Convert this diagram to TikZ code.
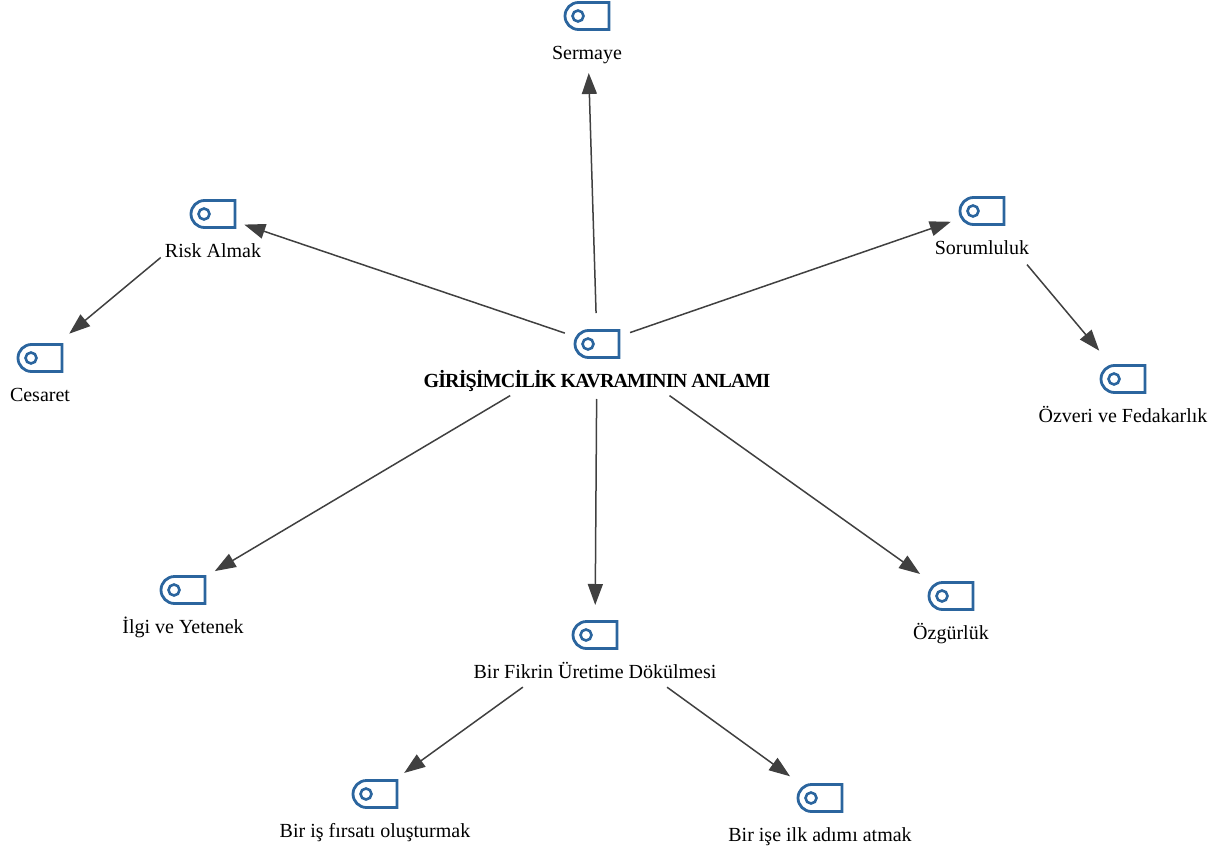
\documentclass[tikz,border=0pt]{standalone}
\usepackage{fontspec}
\setmainfont{Liberation Serif}
\usetikzlibrary{arrows.meta,positioning}
\definecolor{iconBlue}{HTML}{2B659E}
\definecolor{edgeGray}{HTML}{404040}
\tikzset{
   topic/.style={minimum width=50pt, minimum height=32pt, inner sep=0pt,
      path picture={
         \draw[iconBlue,line width=2.8pt]
            ([shift={(47,2.5)}]path picture bounding box.north west) -- ([shift={(47,29.5)}]path picture bounding box.north west)
            -- ([shift={(16.5,29.5)}]path picture bounding box.north west)
            arc[start angle=270,end angle=90,radius=13.5pt]
            -- cycle;
         \draw[iconBlue,line width=2.6pt] ([shift={(16,16)}]path picture bounding box.north west) circle (5.5pt);
      }},
   caption/.style={inner sep=0pt, text height=14pt, text depth=4pt, font=\fontsize{20}{24}\selectfont},
   conn/.style={-{Triangle[length=21pt,width=15pt]},line width=1.5pt,color=edgeGray}
}

\begin{document}
\begin{tikzpicture}[x=1pt,y=-1pt]
   \useasboundingbox (0,0) rectangle (1217,853);

   \node[topic] (main) at (597,344) {};
   \node[caption,below=13.5pt of main,font=\fontsize{20}{24}\selectfont\bfseries] (mainText) {\addfontfeature{LetterSpace=-4.2}GİRİŞİMCİLİK KAVRAMININ ANLAMI};

   \node[topic] (sermaye) at (587,16) {};
   \node[caption,below=13.5pt of sermaye] (sermayeText) {Sermaye};
   \node[topic] (risk) at (213,214) {};
   \node[caption,below=13.5pt of risk] (riskText) {Risk Almak};
   \node[topic] (cesaret) at (40,358) {};
   \node[caption,below=13.5pt of cesaret] (cesaretText) {Cesaret};
   \node[topic] (sorumluluk) at (982,211) {};
   \node[caption,below=13.5pt of sorumluluk] (sorumlulukText) {Sorumluluk};
   \node[topic] (ozveri) at (1123,379) {};
   \node[caption,below=13.5pt of ozveri] (ozveriText) {Özveri ve Fedakarlık};
   \node[topic] (ilgi) at (183,590) {};
   \node[caption,below=13.5pt of ilgi] (ilgiText) {İlgi ve Yetenek};
   \node[topic] (ozgurluk) at (951,596) {};
   \node[caption,below=13.5pt of ozgurluk] (ozgurlukText) {Özgürlük};
   \node[topic] (fikir) at (595,635) {};
   \node[caption,below=13.5pt of fikir] (fikirText) {Bir Fikrin Üretime Dökülmesi};
   \node[topic] (firsat) at (375,794) {};
   \node[caption,below=13.5pt of firsat] (firsatText) {Bir iş fırsatı oluşturmak};
   \node[topic] (adim) at (820,798) {};
   \node[caption,below=13.5pt of adim] (adimText) {Bir işe ilk adımı atmak};

   \draw[conn,shorten <=31pt,shorten >=57pt] (main.center) -- (sermaye.center);
   \draw[conn,shorten <=34pt,shorten >=33pt] (main.center) -- (risk.center);
   \draw[conn,shorten <=35pt,shorten >=33pt] (main.center) -- (sorumluluk.center);
   \draw[conn,shorten <=101pt,shorten >=37pt] (main.center) -- (ilgi.center);
   \draw[conn,shorten <=89pt,shorten >=38pt] (main.center) -- (ozgurluk.center);
   \draw[conn,shorten <=55pt,shorten >=30pt] (main.center) -- (fikir.center);
   \draw[conn,shorten <=68pt,shorten >=38pt] (risk.center) -- (cesaret.center);
   \draw[conn,shorten <=70pt,shorten >=37pt] (sorumluluk.center) -- (ozveri.center);
   \draw[conn,shorten <=89pt,shorten >=36pt] (fikir.center) -- (firsat.center);
   \draw[conn,shorten <=89pt,shorten >=37pt] (fikir.center) -- (adim.center);
\end{tikzpicture}
\end{document}
